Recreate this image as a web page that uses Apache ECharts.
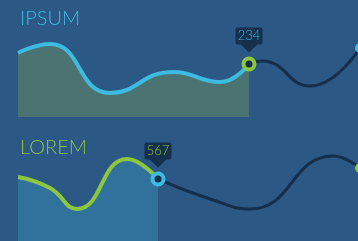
<!DOCTYPE html>
<html>
<head>
<meta charset="utf-8">
<script src="https://cdn.jsdelivr.net/npm/echarts@6/dist/echarts.min.js"></script>
<style>
  html, body { margin: 0; padding: 0; background: #2c5885; }
  #chart { width: 358px; height: 241px; }
</style>
</head>
<body>
<div id="chart"></div>
<script>
// IPSUM panel: highlighted part and the rest of the curve
const ipsumX = [0, 3.2, 9.2, 15.5, 20.2, 23.1];
const ipsumY = [73.6, 83.9, 27.6, 51.7, 40.2, 60.9];
const ipsumRestX = [23.1, 24.4, 29.2, 34.2];
const ipsumRestY = [60.9, 64.4, 35.6, 79.3];
const ipsumLabel = '234';

// LOREM panel
const loremX = [0, 3.2, 5.9, 10.9, 14];
const loremY = [70.3, 58.2, 35.2, 90.1, 68.1];
const loremRestX = [14, 19.5, 23.2, 31.5, 34.2];
const loremRestY = [68.1, 45.1, 35.2, 93.4, 80.2];
const loremLabel = '567';

const blue = '#3dbbe0';
const green = '#8dc63f';
const dark = '#152e4b';
// tooltip-like box with a pointer underneath
const pin = 'path://M2,0H24Q26,0 26,2V15Q26,17 24,17H21L13,25L5,17H2Q0,17 0,15V2Q0,0 2,0Z';

function zip(xs, ys) {
  return xs.map((x, i) => [x, ys[i]]);
}

function panel(idx, xs, ys, restX, restY, lineColor, fillColor, ringColor, endColor, label) {
  const main = zip(xs, ys);
  const last = main[main.length - 1];
  main[main.length - 1] = {
    value: last,
    symbol: 'circle',
    symbolSize: 11,
    itemStyle: { color: dark, borderColor: ringColor, borderWidth: 4 }
  };
  const rest = zip(restX, restY);
  const end = rest[rest.length - 1];
  rest[rest.length - 1] = {
    value: end,
    symbol: 'circle',
    symbolSize: 10,
    itemStyle: { color: endColor }
  };
  return [
    {
      type: 'line',
      xAxisIndex: idx,
      yAxisIndex: idx,
      smooth: 0.5,
      clip: false,
      symbol: 'none',
      showSymbol: true,
      lineStyle: { color: dark, width: 3 },
      data: rest,
      z: 2
    },
    {
      type: 'line',
      xAxisIndex: idx,
      yAxisIndex: idx,
      smooth: 0.5,
      symbol: 'none',
      showSymbol: true,
      lineStyle: { color: lineColor, width: 4 },
      areaStyle: { color: fillColor, opacity: 1, origin: 'start' },
      data: main,
      z: 3,
      markPoint: {
        symbol: pin,
        symbolSize: [27, 25],
        symbolOffset: [0, -24],
        itemStyle: { color: '#15304d' },
        label: {
          show: true,
          position: 'inside',
          offset: [0, -4],
          color: ringColor === green ? blue : green,
          fontSize: 13,
          fontWeight: 300,
          fontFamily: 'Lato',
          formatter: label
        },
        data: [{ coord: last }]
      }
    }
  ];
}

const chart = echarts.init(document.getElementById('chart'));
chart.setOption({
  animation: false,
  backgroundColor: '#2c5885',
  title: [
    { text: 'IPSUM', left: 15, top: 4,
      textStyle: { color: blue, fontSize: 20, fontWeight: 300, fontFamily: 'Lato' } },
    { text: 'LOREM', left: 15, top: 133,
      textStyle: { color: green, fontSize: 20, fontWeight: 300, fontFamily: 'Lato' } }
  ],
  grid: [
    { left: 18, right: 0, top: 30, bottom: 124 },
    { left: 18, right: 0, top: 150, bottom: 0 }
  ],
  xAxis: [
    { type: 'value', gridIndex: 0, min: 0, max: 34, show: false },
    { type: 'value', gridIndex: 1, min: 0, max: 34, show: false }
  ],
  yAxis: [
    { type: 'value', gridIndex: 0, min: 0, max: 100, show: false },
    { type: 'value', gridIndex: 1, min: 0, max: 100, show: false }
  ],
  series: [
    ...panel(0, ipsumX, ipsumY, ipsumRestX, ipsumRestY, blue, '#4a7372', green, blue, ipsumLabel),
    ...panel(1, loremX, loremY, loremRestX, loremRestY, green, '#31729c', blue, green, loremLabel)
  ]
});
</script>
</body>
</html>
